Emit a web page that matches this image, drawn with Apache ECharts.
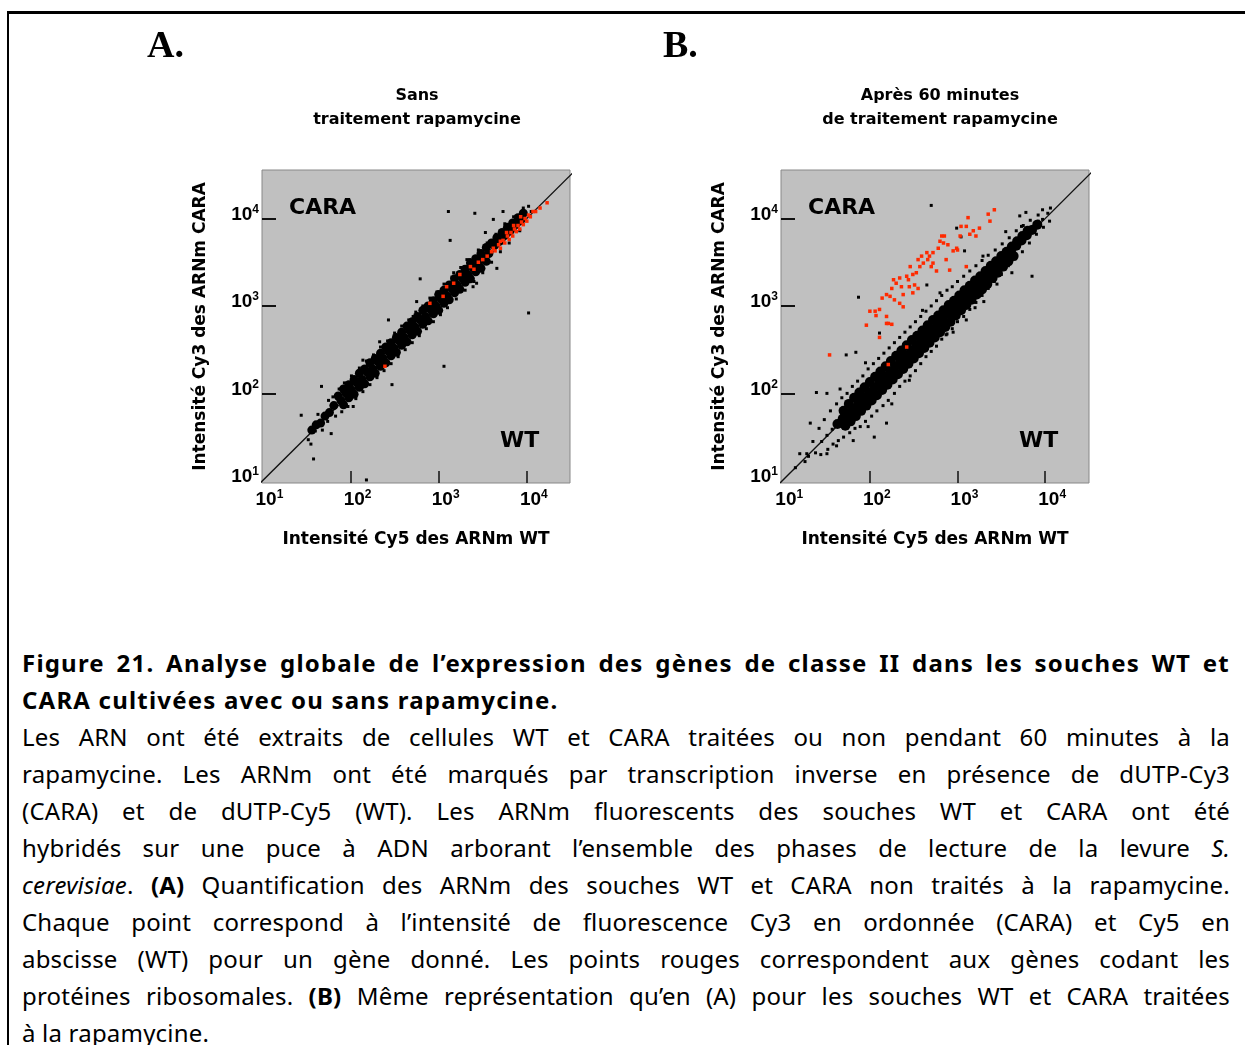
<!DOCTYPE html>
<html><head><meta charset="utf-8">
<script src="https://cdn.jsdelivr.net/npm/echarts@6/dist/echarts.min.js"></script>
<style>
html,body{margin:0;padding:0;background:#fff;width:1245px;height:1045px;overflow:hidden;position:relative;}
#frame{position:absolute;left:7px;top:11px;width:1300px;height:1100px;border-left:2px solid #000;border-top:3px solid #000;box-sizing:border-box;}
#chart{position:absolute;left:0;top:0;width:1245px;height:600px;}
#caption{position:absolute;left:22px;top:644px;width:1208px;font-family:'Noto Sans',sans-serif;font-size:24px;letter-spacing:0.2px;color:#000;}
#caption div{height:37px;line-height:37px;text-align:justify;text-align-last:justify;white-space:nowrap;}
#caption div.l{text-align-last:left;}
#caption .bd{font-weight:bold;letter-spacing:1.2px;}
</style></head>
<body>
<div id="frame"></div>
<div id="chart"></div>
<div id="caption">
<div class="bd">Figure 21. Analyse globale de l’expression des gènes de classe II dans les souches WT et</div>
<div class="bd l">CARA cultivées avec ou sans rapamycine.</div>
<div>Les ARN ont été extraits de cellules WT et CARA traitées ou non pendant 60 minutes à la</div>
<div>rapamycine. Les ARNm ont été marqués par transcription inverse en présence de dUTP-Cy3</div>
<div>(CARA) et de dUTP-Cy5 (WT). Les ARNm fluorescents des souches WT et CARA ont été</div>
<div>hybridés sur une puce à ADN arborant l’ensemble des phases de lecture de la levure <i>S.</i></div>
<div><i>cerevisiae</i>. <b>(A)</b> Quantification des ARNm des souches WT et CARA non traités à la rapamycine.</div>
<div>Chaque point correspond à l’intensité de fluorescence Cy3 en ordonnée (CARA) et Cy5 en</div>
<div>abscisse (WT) pour un gène donné. Les points rouges correspondent aux gènes codant les</div>
<div>protéines ribosomales. <b>(B)</b> Même représentation qu’en (A) pour les souches WT et CARA traitées</div>
<div class="l">à la rapamycine.</div>
</div>
<script>
// All values are log10(intensity): [log10 Cy5 WT, log10 Cy3 CARA]
const tickExponents = [1, 2, 3, 4];
const tickMarkExponents = [2, 3, 4];
const identityLine = [[0.9, 0.9], [4.6, 4.6]];

// Panel A : sans rapamycine  (dense core of the cloud, read as a band of blobs)
const A_core = [[1.56,1.58],[1.61,1.64],[1.66,1.66],[1.71,1.74],[1.76,1.78],[1.81,1.86],
[1.86,1.97],[1.92,2.05],[1.98,2.10],[2.04,2.16],[2.10,2.23],[2.16,2.28],[2.22,2.35],[2.28,2.40],[2.34,2.46],[2.40,2.53],[2.46,2.58],[2.52,2.64],[2.58,2.70],[2.64,2.77],[2.70,2.82],[2.76,2.88],[2.82,2.95],[2.88,3.00],[2.94,3.06],[3.00,3.13],[3.06,3.18],[3.12,3.24],[3.18,3.31],[3.24,3.36],[3.30,3.42],[3.36,3.49],[3.42,3.54],[3.48,3.60],[3.54,3.67],[3.60,3.72],[3.66,3.78],[3.72,3.84],[3.78,3.90],[3.84,3.95],[3.90,4.01],[3.96,4.06],
[1.89,1.92],[1.95,2.00],[2.01,2.04],[2.07,2.12],[2.13,2.16],[2.19,2.24],[2.25,2.28],[2.31,2.36],[2.37,2.40],[2.43,2.48],[2.49,2.52],[2.55,2.60],[2.61,2.64],[2.67,2.72],[2.73,2.76],[2.79,2.84],[2.85,2.88],[2.91,2.96],[2.97,3.00],[3.03,3.08],[3.09,3.12],[3.15,3.20],[3.21,3.24],[3.27,3.32],[3.33,3.36],[3.39,3.44],[3.45,3.48],[3.51,3.56],[3.57,3.60],[3.63,3.69],[3.69,3.74],[3.75,3.81],[3.81,3.86],[3.87,3.93],[3.93,3.98],
[1.92,1.87],[1.98,1.95],[2.04,1.99],[2.10,2.07],[2.16,2.11],[2.22,2.19],[2.28,2.23],[2.34,2.31],[2.40,2.35],[2.46,2.43],[2.52,2.47],[2.58,2.55],[2.64,2.59],[2.70,2.67],[2.76,2.71],[2.82,2.79],[2.88,2.83],[2.94,2.91],[3.00,2.95],[3.06,3.03],[3.12,3.07],[3.18,3.15],[3.24,3.19],[3.30,3.27],[3.36,3.31],[3.42,3.39],[3.48,3.43],[3.54,3.51]];
const A_edge = [[1.52,1.47],[1.55,1.42],[1.60,1.57],[1.63,1.76],[1.68,1.58],[1.74,1.68],[1.75,1.92],[1.80,1.96],[1.83,1.74],[1.87,2.05],[1.90,1.79],[1.93,2.12],[1.97,1.85],[2.01,2.20],[2.06,1.94],[2.10,2.29],[2.14,2.02],[2.18,2.37],[2.22,2.10],[2.26,2.44],[2.30,2.18],[2.34,2.53],[2.38,2.26],[2.42,2.60],[2.46,2.34],[2.50,2.69],[2.54,2.42],[2.58,2.77],[2.62,2.50],[2.66,2.84],[2.70,2.58],[2.74,2.93],[2.78,2.66],[2.82,3.00],[2.86,2.74],[2.90,3.09],[2.94,2.82],[2.98,3.16],[3.02,2.90],[3.06,3.25],[3.10,2.98],[3.15,3.33],[3.20,3.08],[3.25,3.44],[3.30,3.18],[3.35,3.53],[3.40,3.28],[3.45,3.64],[3.50,3.38],[3.55,3.72],[3.60,3.50],[3.65,3.82],[3.70,3.62],[3.75,3.94],[3.80,3.72],[3.85,4.02],[3.92,3.86],[3.96,4.12],[4.02,4.14],[4.05,4.08]];
const A_outliers = [[3.11,4.08],[3.41,4.06],[3.73,4.08],[3.62,3.99],[3.13,3.75],[3.66,3.43],[3.39,3.22],[2.79,3.31],[2.75,3.05],[2.43,2.84],[4.02,2.92],[3.06,2.31],[2.47,2.10],[1.67,2.08],[1.44,1.75],[1.58,1.25],[2.18,1.01],[2.71,2.88],[2.33,2.59],[2.14,2.38],[2.03,1.85],[1.78,1.54],[3.53,3.84],[3.58,3.68],[3.32,3.53],[3.17,3.38],[3.43,3.26]];
const A_ribo = [[3.55,3.57],[3.60,3.62],[3.64,3.63],[3.68,3.70],[3.70,3.66],[3.73,3.75],[3.75,3.72],[3.78,3.80],[3.80,3.76],[3.82,3.84],[3.84,3.80],[3.86,3.88],[3.88,3.85],[3.90,3.92],[3.92,3.88],[3.94,3.96],[3.96,3.93],[3.98,4.00],[4.00,3.97],[4.02,4.04],[4.04,4.02],[4.07,4.08],[4.10,4.08],[4.15,4.12],[4.23,4.18],[3.77,3.84],[3.85,3.92],[3.93,4.02],[3.70,3.74],[3.62,3.66],[3.09,3.22],[3.17,3.26],[3.05,3.11],[2.90,3.03],[3.24,3.36],[3.36,3.45],[2.39,2.31],[3.45,3.50],[3.50,3.53],[3.40,3.42]];

// Panel B : après 60 minutes de rapamycine
const B_core = [[1.70,1.80],[1.76,1.88],[1.82,1.95],[1.88,2.01],[1.94,2.07],[2.00,2.13],[2.06,2.19],[2.12,2.25],[2.18,2.31],[2.24,2.37],[2.30,2.43],[2.36,2.49],[2.42,2.55],[2.48,2.61],[2.54,2.66],[2.60,2.72],[2.66,2.78],[2.72,2.84],[2.78,2.89],[2.84,2.95],[2.90,3.01],[2.96,3.06],[3.02,3.12],[3.08,3.18],[3.14,3.23],[3.20,3.29],[3.26,3.34],[3.32,3.40],[3.38,3.46],[3.44,3.51],[3.50,3.57],[3.56,3.62],[3.62,3.68],[3.68,3.74],[3.74,3.80],[3.80,3.86],
[1.63,1.65],[1.69,1.71],[1.75,1.77],[1.81,1.83],[1.87,1.89],[1.93,1.95],[1.99,2.01],[2.05,2.07],[2.11,2.13],[2.17,2.19],[2.23,2.25],[2.29,2.31],[2.35,2.37],[2.41,2.43],[2.47,2.49],[2.53,2.55],[2.59,2.61],[2.65,2.67],[2.71,2.73],[2.77,2.79],[2.83,2.85],[2.89,2.91],[2.95,2.97],[3.01,3.03],[3.07,3.09],[3.13,3.15],[3.19,3.21],[3.25,3.27],[3.31,3.33],[3.37,3.39],[3.43,3.45],[3.49,3.51],[3.55,3.57],[3.61,3.63],[3.67,3.69],[3.73,3.75],[3.79,3.81],[3.85,3.87],[3.91,3.93],
[1.72,1.63],[1.78,1.68],[1.84,1.74],[1.90,1.80],[1.96,1.86],[2.02,1.92],[2.08,1.98],[2.14,2.04],[2.20,2.10],[2.26,2.16],[2.32,2.22],[2.38,2.28],[2.44,2.34],[2.50,2.40],[2.56,2.46],[2.62,2.52],[2.68,2.58],[2.74,2.64],[2.80,2.70],[2.86,2.76],[2.92,2.82],[2.98,2.89],[3.04,2.95],[3.10,3.01],[3.16,3.07],[3.22,3.13],[3.28,3.19],[3.34,3.25],[3.40,3.32],[3.46,3.38],[3.52,3.45],[3.58,3.51],[3.64,3.57]];
const B_edge = [[1.30,1.28],[1.35,1.45],[1.38,1.32],[1.42,1.60],[1.44,1.30],[1.45,1.45],[1.48,1.70],[1.51,1.52],[1.52,1.36],[1.55,1.80],[1.57,1.59],[1.58,1.42],[1.62,1.88],[1.64,1.46],[1.68,1.95],[1.70,1.50],[1.74,2.00],[1.77,1.55],[1.80,2.08],[1.83,1.60],[1.86,2.14],[1.89,1.62],[1.92,2.20],[1.95,1.68],[1.98,2.28],[2.02,1.74],[2.04,2.34],[2.08,1.80],[2.10,2.40],[2.15,1.86],[2.16,2.46],[2.21,1.92],[2.22,2.52],[2.28,2.00],[2.28,2.58],[2.34,2.08],[2.34,2.64],[2.40,2.14],[2.40,2.70],[2.46,2.20],[2.46,2.76],[2.52,2.26],[2.52,2.82],[2.58,2.34],[2.58,2.88],[2.64,2.42],[2.64,2.94],[2.70,2.48],[2.70,3.00],[2.76,2.54],[2.76,3.06],[2.82,2.62],[2.82,3.12],[2.88,2.68],[2.88,3.18],[2.94,2.74],[2.94,3.22],[3.00,2.82],[3.00,3.28],[3.07,2.88],[3.07,3.34],[3.14,2.96],[3.14,3.40],[3.21,3.04],[3.21,3.46],[3.28,3.12],[3.28,3.52],[3.35,3.20],[3.35,3.58],[3.42,3.28],[3.43,3.64],[3.50,3.36],[3.51,3.71],[3.58,3.46],[3.59,3.78],[3.66,3.54],[3.67,3.86],[3.74,3.62],[3.75,3.92],[3.82,3.72],[3.83,3.98],[3.86,3.91],[3.90,3.82],[3.92,3.97],[3.92,4.04],[3.97,3.99],[3.98,3.90],[4.03,4.06],[4.05,3.97],[4.06,4.12]];
const B_outliers = [[2.70,4.15],[2.99,3.89],[1.87,3.10],[1.84,2.47],[1.73,2.44],[1.39,2.01],[1.51,2.00],[1.32,1.66],[1.28,1.31],[1.51,1.31],[2.19,1.66],[1.81,1.46],[3.85,3.34],[3.78,4.07],[3.97,4.10],[3.71,4.03],[3.73,3.91],[3.40,3.30],[2.87,2.67],[3.10,2.84],[1.26,1.22],[1.20,1.31],[2.11,2.69],[2.65,3.24],[3.08,3.63],[2.05,1.50],[1.15,1.15],[3.30,3.05],[3.04,3.79],[3.29,3.57],[1.62,1.40],[1.95,2.35],[2.25,1.88],[2.60,2.95],[2.95,2.70],[3.20,2.98],[3.55,3.85],[3.62,3.38],[1.98,1.62],[2.45,2.15],[1.66,2.05],[2.80,3.15],[3.45,3.25]];
const B_ribo = [[1.54,2.44],[1.96,2.78],[2.00,2.94],[2.06,2.94],[2.11,2.96],[2.07,2.89],[2.19,2.88],[2.11,2.64],[2.19,2.80],[2.21,2.80],[2.25,2.79],[2.14,3.09],[2.19,3.13],[2.23,3.11],[2.25,3.20],[2.27,3.30],[2.30,3.26],[2.34,3.32],[2.36,3.22],[2.38,3.13],[2.42,3.34],[2.44,3.30],[2.45,3.22],[2.46,3.45],[2.49,3.36],[2.53,3.38],[2.55,3.53],[2.57,3.45],[2.61,3.49],[2.65,3.61],[2.66,3.53],[2.68,3.57],[2.72,3.61],[2.72,3.49],[2.76,3.40],[2.80,3.74],[2.82,3.80],[2.85,3.80],[2.87,3.53],[2.89,3.70],[2.91,3.41],[2.95,3.63],[2.99,3.66],[3.03,3.80],[3.04,3.91],[3.10,3.91],[3.12,4.01],[3.14,3.82],[3.18,3.86],[3.21,3.80],[3.25,3.89],[3.37,3.97],[3.42,4.10],[3.35,4.05],[2.38,2.99],[2.49,3.15],[2.55,3.20],[2.34,3.03],[2.28,3.07],[2.51,3.24],[2.59,3.57],[2.70,3.45],[2.78,3.66],[2.84,3.72],[3.00,3.64],[3.10,3.45],[2.21,2.33],[2.42,2.53]];

const panelTitles = ['Sans\ntraitement rapamycine', 'Après 60 minutes\nde traitement rapamycine'];
const xAxisName = 'Intensité Cy5 des ARNm WT';
const yAxisName = 'Intensité Cy3 des ARNm CARA';

const chart = echarts.init(document.getElementById('chart'), null, {renderer:'canvas'});
const BF = 'DejaVu Sans';
const supRich = {
  b:{fontFamily:'Liberation Sans',fontSize:19,fontWeight:'bold',color:'#000',lineHeight:22},
  s:{fontFamily:'Liberation Sans',fontSize:12,fontWeight:'bold',color:'#000',verticalAlign:'top',lineHeight:12}
};
const fmt = v => '{b|10}{s|' + Math.round(v) + '}';
function xAx(i, min, max){
  return {type:'value', gridIndex:i, min:min, max:max, axisLine:{show:false}, splitLine:{show:false},
    axisTick:{show:true, inside:true, length:12, customValues:tickMarkExponents, lineStyle:{color:'#111', width:1.5}},
    axisLabel:{customValues:tickExponents, formatter:fmt, rich:supRich, margin:6, padding:[0,0,0,14]},
    name:xAxisName, nameLocation:'middle', nameGap:48,
    nameTextStyle:{fontFamily:BF, fontWeight:'bold', fontSize:17, color:'#000'}};
}
function yAx(i){
  return {type:'value', gridIndex:i, min:0.975, max:4.555, axisLine:{show:false}, splitLine:{show:false},
    axisTick:{show:true, inside:true, length:14, customValues:tickMarkExponents, lineStyle:{color:'#111', width:2}},
    axisLabel:{customValues:tickExponents, formatter:fmt, rich:supRich, margin:3, padding:[0,0,8,0]},
    name:yAxisName, nameLocation:'middle', nameGap:53,
    nameTextStyle:{fontFamily:BF, fontWeight:'bold', fontSize:17, color:'#000'}};
}
function panelSeries(i, core, edge, outl, ribo, coreSize){
  return [
    {type:'line', xAxisIndex:i, yAxisIndex:i, data:identityLine, showSymbol:false, silent:true,
      lineStyle:{color:'#111', width:1.3}, z:1, clip:true},
    {type:'scatter', xAxisIndex:i, yAxisIndex:i, data:core, symbol:'circle', symbolSize:coreSize, itemStyle:{color:'#000', opacity:1}, z:2},
    {type:'scatter', xAxisIndex:i, yAxisIndex:i, data:edge, symbol:'rect', symbolSize:3, itemStyle:{color:'#000', opacity:1}, z:2},
    {type:'scatter', xAxisIndex:i, yAxisIndex:i, data:outl, symbol:'rect', symbolSize:3, itemStyle:{color:'#000', opacity:1}, z:2},
    {type:'scatter', xAxisIndex:i, yAxisIndex:i, data:ribo, symbol:'rect', symbolSize:3.5, itemStyle:{color:'#ff2a00', opacity:1}, z:3}
  ];
}
const txt = (x, y, text, o) => ({type:'text', x:x, y:y, z:10, style:Object.assign({text:text, fill:'#000', fontFamily:BF, fontWeight:'bold', align:'left', verticalAlign:'middle'}, o||{})});
chart.setOption({
  animation:false,
  grid:[
    {left:262, top:170, width:308, height:313, show:true, backgroundColor:'#c0c0c0', borderColor:'#888', borderWidth:1},
    {left:781, top:170, width:308, height:313, show:true, backgroundColor:'#c0c0c0', borderColor:'#888', borderWidth:1}
  ],
  xAxis:[xAx(0, 0.995, 4.49), xAx(1, 0.986, 4.5)],
  yAxis:[yAx(0), yAx(1)],
  series:[].concat(panelSeries(0, A_core, A_edge, A_outliers, A_ribo, 9), panelSeries(1, B_core, B_edge, B_outliers, B_ribo, 10)),
  graphic:[
    txt(147, 47, 'A.', {fontFamily:'Liberation Serif', fontSize:38}),
    txt(663, 47, 'B.', {fontFamily:'Liberation Serif', fontSize:38}),
    txt(417, 108, panelTitles[0], {align:'center', fontSize:16, lineHeight:24}),
    txt(940, 108, panelTitles[1], {align:'center', fontSize:16, lineHeight:24}),
    txt(289, 208, 'CARA', {fontSize:22}),
    txt(500, 441, 'WT', {fontSize:22}),
    txt(808, 208, 'CARA', {fontSize:22}),
    txt(1019, 441, 'WT', {fontSize:22})
  ]
});
</script>
</body></html>
